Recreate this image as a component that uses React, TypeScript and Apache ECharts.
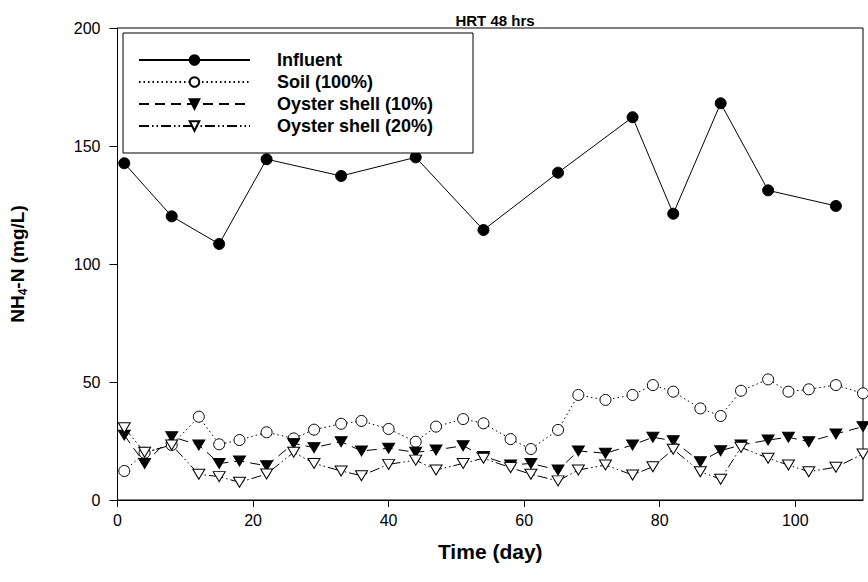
import React, { useEffect, useRef } from "react";
import * as echarts from "echarts";

const titleText = "HRT 48 hrs";
const seriesNames = ["Influent", "Soil (100%)", "Oyster shell (10%)", "Oyster shell (20%)"];
const xTicks = [0, 20, 40, 60, 80, 100];

const influentDays = [1, 8, 15, 22, 33, 44, 54, 65, 76, 82, 89, 96, 106];
const influent = [142.7, 120.2, 108.5, 144.4, 137.3, 145.2, 114.4, 138.7, 162.2, 121.3, 168.1, 131.2, 124.6];

const days = [1, 4, 8, 12, 15, 18, 22, 26, 29, 33, 36, 40, 44, 47, 51, 54, 58, 61, 65, 68, 72, 76, 79, 82, 86, 89, 92, 96, 99, 102, 106, 110];
const soil = [12.3, 20, 23.3, 35.3, 23.6, 25.4, 28.7, 26.1, 29.8, 32.3, 33.5, 30.1, 24.7, 31.1, 34.3, 32.5, 25.8, 21.6, 29.7, 44.5, 42.4, 44.5, 48.7, 45.9, 38.8, 35.6, 46.3, 51.1, 45.9, 46.9, 48.7, 45.2];
const oyster10 = [27.5, 15.5, 26.8, 23.3, 15.5, 16.5, 14.5, 24.0, 22.2, 24.7, 20.8, 21.9, 20.2, 21.2, 23.0, 18.5, 14.8, 15.5, 12.7, 20.8, 19.8, 23.3, 26.6, 25.1, 16.2, 20.9, 23.3, 25.4, 26.6, 24.7, 28.0, 31.1];
const oyster20 = [30.6, 20.2, 23.3, 10.9, 9.9, 7.5, 11.0, 20.2, 15.5, 12.3, 10.3, 15.1, 16.9, 12.7, 15.5, 17.7, 13.7, 10.9, 8.1, 12.7, 14.8, 10.6, 14.1, 21.5, 12.0, 8.8, 22.3, 17.7, 14.8, 12.0, 13.9, 19.5];

const FONT = "'Liberation Sans', Arial, sans-serif";

function pairs(xs: number[], ys: number[]) {
  return xs.map((x, i) => [x, ys[i]]);
}

export default function App() {
  const ref = useRef<HTMLDivElement>(null);
  useEffect(() => {
    if (!ref.current) return;
    const chart = echarts.init(ref.current, null, { renderer: "svg" });
    const filled = { color: "#000", borderColor: "#000", borderWidth: 1 };
    const open = { color: "#fff", borderColor: "#000", borderWidth: 1 };
    chart.setOption({
      animation: false,
      backgroundColor: "#fff",
      textStyle: { fontFamily: FONT, color: "#000" },
      title: {
        text: titleText,
        left: 490,
        textAlign: "center",
        top: 8,
        textStyle: { fontSize: 15, fontWeight: "bold", fontFamily: FONT, color: "#000" },
      },
      grid: {
        left: 117,
        right: 5,
        top: 28,
        bottom: 82,
        show: true,
        borderColor: "#000",
        borderWidth: 1,
        backgroundColor: "transparent",
      },
      graphic: [
        {
          type: "rect",
          shape: { x: 123, y: 33, width: 350, height: 120 },
          style: { fill: "#fff", stroke: "#000", lineWidth: 1 },
          z: 3,
        },
      ],
      legend: {
        orient: "vertical",
        left: 138,
        top: 51,
        padding: 0,
        itemWidth: 111,
        itemHeight: 12,
        itemGap: 4,
        z: 5,
        data: seriesNames,
        textStyle: {
          fontSize: 18,
          fontWeight: "bold",
          fontFamily: FONT,
          color: "#000",
          padding: [0, 0, 0, 22],
          lineHeight: 13,
        },
      },
      xAxis: {
        type: "value",
        min: 0,
        max: 110,
        interval: 20,
        name: "Time (day)",
        nameLocation: "middle",
        nameGap: 41,
        nameTextStyle: { fontSize: 21, fontWeight: "bold", fontFamily: FONT, color: "#000" },
        splitLine: { show: false },
        axisLine: { show: true, onZero: false, lineStyle: { color: "#000", width: 1 } },
        axisTick: { show: true, length: 7, lineStyle: { color: "#000" }, customValues: xTicks },
        axisLabel: { fontSize: 16, color: "#000", margin: 12, fontFamily: FONT, customValues: xTicks },
      },
      yAxis: {
        type: "value",
        min: 0,
        max: 200,
        interval: 50,
        name: "{a|NH}{b|4}{a|-N (mg/L)}",
        nameLocation: "middle",
        nameGap: 89,
        nameRotate: 90,
        nameTextStyle: {
          fontSize: 19,
          fontWeight: "bold",
          fontFamily: FONT,
          color: "#000",
          rich: {
            a: { fontSize: 19, fontWeight: "bold", fontFamily: FONT, color: "#000" },
            b: { fontSize: 12, fontWeight: "bold", fontFamily: FONT, color: "#000", padding: [10, 0, 0, 0] },
          },
        },
        splitLine: { show: false },
        axisLine: { show: true, lineStyle: { color: "#000", width: 1 } },
        axisTick: { show: true, length: 8, lineStyle: { color: "#000" } },
        axisLabel: { fontSize: 16, color: "#000", margin: 17, fontFamily: FONT },
      },
      series: [
        {
          name: seriesNames[0],
          type: "line",
          data: pairs(influentDays, influent),
          symbol: "circle",
          symbolSize: 11,
          itemStyle: filled,
          lineStyle: { color: "#000", width: 1, type: "solid" },
          z: 2,
        },
        {
          name: seriesNames[1],
          type: "line",
          data: pairs(days, soil),
          symbol: "circle",
          symbolSize: 11,
          itemStyle: open,
          lineStyle: { color: "#000", width: 1, type: [1.5, 3] },
          z: 2,
        },
        {
          name: seriesNames[2],
          type: "line",
          data: pairs(days, oyster10),
          symbol: "triangle",
          symbolRotate: 180,
          symbolSize: [12, 10],
          itemStyle: filled,
          lineStyle: { color: "#000", width: 1, type: [10, 6] },
          z: 2,
        },
        {
          name: seriesNames[3],
          type: "line",
          data: pairs(days, oyster20),
          symbol: "triangle",
          symbolRotate: 180,
          symbolSize: [12, 10],
          itemStyle: open,
          lineStyle: { color: "#000", width: 1, type: [10, 3, 1.5, 3, 1.5, 3] },
          z: 2,
        },
      ],
    });
    return () => chart.dispose();
  }, []);
  return <div ref={ref} style={{ width: 868, height: 582, position: "absolute", left: 0, top: 0 }} />;
}
